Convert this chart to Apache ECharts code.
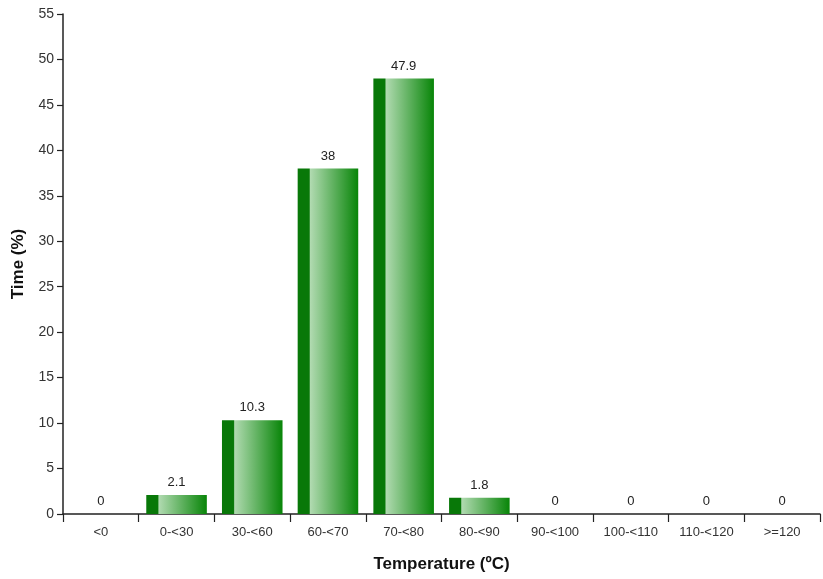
<!DOCTYPE html>
<html><head><meta charset="utf-8">
<script src="https://cdn.jsdelivr.net/npm/echarts@6/dist/echarts.min.js"></script>
<style>html,body{margin:0;padding:0;background:#fff}#c{width:823px;height:579px}</style>
</head><body><div id="c"></div>
<script>
var categories = ['<0','0-<30','30-<60','60-<70','70-<80','80-<90','90-<100','100-<110','110-<120','>=120'];
var values = [0, 2.1, 10.3, 38, 47.9, 1.8, 0, 0, 0, 0];
var yTicks = {min: 0, max: 55, interval: 5};

var chart = echarts.init(document.getElementById('c'), null, {renderer: 'canvas'});
var grad = new echarts.graphic.LinearGradient(0, 0, 1, 0, [
  {offset: 0, color: '#087808'},
  {offset: 0.19, color: '#087808'},
  {offset: 0.21, color: '#b0dab0'},
  {offset: 1, color: '#088508'}
]);
var font = 'Liberation Sans, Arial, sans-serif';
chart.setOption({
  animation: false,
  grid: {left: 63, right: 3, top: 14, bottom: 65},
  xAxis: {
    type: 'category', data: categories,
    name: 'Temperature (ºC)', nameLocation: 'middle', nameGap: 42,
    nameTextStyle: {fontFamily: font, fontWeight: 'bold', fontSize: 17, color: '#111'},
    axisLine: {lineStyle: {color: '#222', width: 1.5}},
    axisTick: {show: true, alignWithLabel: false, length: 8, lineStyle: {color: '#222', width: 1.2}},
    axisLabel: {fontFamily: font, fontSize: 13, color: '#333', margin: 12, interval: 0}
  },
  yAxis: {
    type: 'value', min: yTicks.min, max: yTicks.max, interval: yTicks.interval,
    name: 'Time (%)', nameLocation: 'middle', nameGap: 36, nameRotate: 90,
    nameTextStyle: {fontFamily: font, fontWeight: 'bold', fontSize: 17, color: '#111'},
    axisLine: {show: true, lineStyle: {color: '#222', width: 1.5}},
    axisTick: {show: true, length: 6, lineStyle: {color: '#222', width: 1.2}},
    axisLabel: {fontFamily: font, fontSize: 14, color: '#333', margin: 9},
    splitLine: {show: false}
  },
  series: [{
    type: 'bar', data: values, barWidth: '80%',
    itemStyle: {color: grad},
    label: {show: true, position: 'top', distance: 6, fontFamily: font, fontSize: 13, color: '#222'}
  }]
});
</script></body></html>
